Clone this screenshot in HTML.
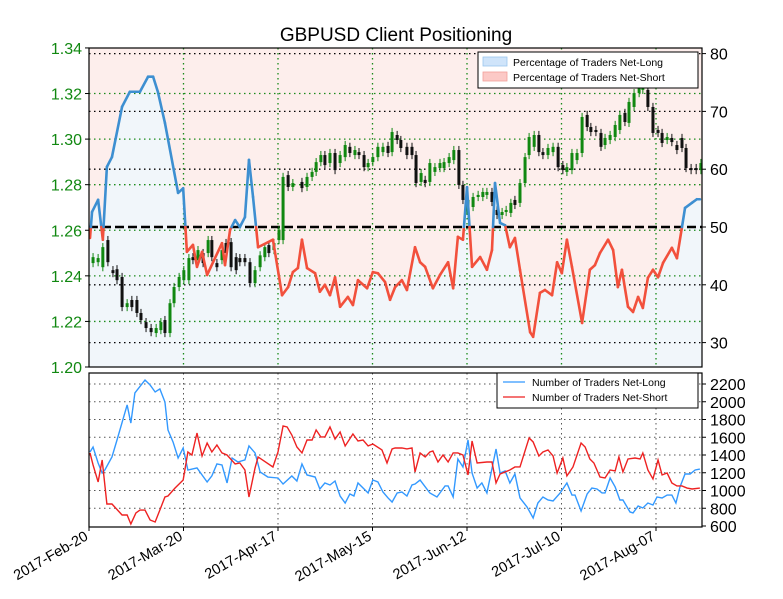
<!DOCTYPE html>
<html><head><meta charset="utf-8"><style>
body{margin:0;background:#fff;}
svg{display:block;font-family:"Liberation Sans","DejaVu Sans",sans-serif;}
</style></head><body>
<svg id="chart" width="783" height="599" viewBox="0 0 783 599" xmlns="http://www.w3.org/2000/svg">
<text x="396" y="41" font-size="19" text-anchor="middle" fill="#000">GBPUSD Client Positioning</text>
<g id="topPanel"></g>
<g id="botPanel"></g>
<g>
<rect x="478" y="52" width="220" height="36" fill="#fff" stroke="#000" stroke-width="1"/>
<rect x="483" y="57" width="24" height="9" fill="#cfe4fa" stroke="#9cc6ee" stroke-width="0.8"/>
<text x="513" y="66" font-size="10.5">Percentage of Traders Net-Long</text>
<rect x="483" y="72" width="24" height="9" fill="#fcc9c6" stroke="#f3a09a" stroke-width="0.8"/>
<text x="513" y="81" font-size="10.5">Percentage of Traders Net-Short</text>
</g>
<g>
<rect x="497" y="373" width="201" height="35" fill="#fff" stroke="#000" stroke-width="1"/>
<line x1="503" y1="382" x2="525" y2="382" stroke="#3399ff" stroke-width="1.3"/>
<text x="532" y="386" font-size="10.5">Number of Traders Net-Long</text>
<line x1="503" y1="397" x2="525" y2="397" stroke="#ee2222" stroke-width="1.3"/>
<text x="532" y="401" font-size="10.5">Number of Traders Net-Short</text>
</g>
</svg>
<script>
const dateLabels=["2017-Feb-20","2017-Mar-20","2017-Apr-17","2017-May-15","2017-Jun-12","2017-Jul-10","2017-Aug-07"];
const dateTickDays=[0,28,56,84,112,140,168];
const priceTicks=[1.20,1.22,1.24,1.26,1.28,1.30,1.32,1.34];
const pctTicks=[30,40,50,60,70,80];
const countTicks=[600,800,1000,1200,1400,1600,1800,2000,2200];

const pctDays=[0.3,0.9,2.7,4.1,5.3,6.8,9.8,12.1,15.1,17.5,19,20.4,22.5,26.4,27.9,29,30.8,32,33.5,35,39.4,40.3,41.8,43.3,44.7,46.2,47.4,48.6,50.1,54.5,57.2,59,60.4,61.9,63.1,64.6,67,68.4,69.9,71.4,72.9,74.4,76.7,78.2,79.7,82.4,84.1,85.6,87.7,89.2,90.7,92.7,94.2,96.6,98.1,99.6,101.9,104,106.4,107.9,109.3,110.8,112,113.5,115.9,117.9,119.4,120.3,121.8,123.3,124.7,126.2,127.7,130.7,131.6,133.6,135.1,137.2,138.7,140.1,141.6,143.1,146.1,148.4,149.9,151.4,153.8,155.3,156.7,157.9,159.7,161.2,162.7,164.1,165.6,167.1,168.6,170.1,172.7,174.2,175.7,176.6,178.7,180.1,181];
const pctLong=[48.1,52.6,54.7,47.8,60.4,62.1,70.8,73.4,73.4,76,76,73.4,68,55.9,56.7,45.7,46.9,43.1,45.7,41.7,47.2,43.4,49.5,51.2,50,51.7,61.6,55.2,46.5,47.8,38.2,39.6,42.2,42.9,47.8,42.9,42,38.8,40,38.2,41.3,36.2,37.9,36.5,40.8,39.4,42.2,42,40.5,37.4,39.6,40.8,39.1,46.5,43.9,43.1,39.4,41.7,43.9,39.4,48.3,47.8,56.9,43.1,44.8,42.6,46,57.6,50.7,50.3,46.5,48.1,42.6,31.8,31,38.6,39.1,38.2,43.9,42,47.8,43.1,33.4,42.6,43.4,45.5,47.8,46,39.6,42.6,36.2,35.3,37.9,36,41.2,42.6,41.3,43.8,46.4,44.6,50,53.3,54.2,54.8,54.8];

const candleDays=[1.2,2.7,4.1,5.6,7.1,8.3,9.8,11.3,12.7,14.2,15.4,16.9,18.4,19.9,21.3,22.5,24,25.2,26.7,28.1,29.6,30.8,32.3,33.8,35.3,36.4,37.9,39.4,40.6,42.1,43.6,44.7,46.2,47.7,49.2,50.7,52.1,53.3,54.8,56.3,57.5,59,60.4,63.1,64.6,66.1,67.3,68.7,69.9,71.4,72.9,74.4,75.9,77.3,78.8,80,81.5,82.7,84.1,85.6,87.1,88.6,89.8,91.3,92.4,94.2,95.7,96.9,98.4,99.6,101,102.5,104,105.2,106.7,108.1,109.6,110.8,112.3,113.8,115.3,116.7,117.9,119.4,120.9,122.4,123.6,125,126.2,127.7,129.2,130.4,131.9,133.3,134.5,136,137.5,139,140.4,141.6,143.1,144.6,146.1,147.6,148.7,150.2,151.7,152.9,154.4,155.9,157.3,158.8,160,161.5,163,164.1,165.6,167.1,168.6,169.8,171.3,172.7,174.2,175.7,176.9,178.4,179.9,181.3];
const candleOpen=[1.2456,1.246,1.2438,1.2557,1.2425,1.2429,1.2395,1.2263,1.2294,1.2294,1.2237,1.2197,1.2171,1.2149,1.2162,1.2206,1.2149,1.228,1.2351,1.2381,1.2381,1.2482,1.2469,1.25,1.25,1.2557,1.2456,1.2469,1.2544,1.2548,1.2482,1.2478,1.2478,1.246,1.2368,1.2438,1.2482,1.2535,1.2513,1.2557,1.2557,1.2842,1.279,1.2812,1.279,1.2834,1.2856,1.2899,1.293,1.2895,1.2939,1.2895,1.2921,1.2966,1.293,1.2943,1.293,1.2877,1.2899,1.2921,1.2943,1.297,1.2943,1.3018,1.2996,1.2966,1.2966,1.293,1.2812,1.2821,1.2812,1.2856,1.2873,1.2873,1.2895,1.2908,1.2952,1.2799,1.2667,1.2702,1.2746,1.2746,1.2755,1.2768,1.2689,1.2667,1.268,1.2676,1.2733,1.272,1.2807,1.293,1.2966,1.3018,1.2943,1.293,1.2943,1.2966,1.2886,1.2856,1.2864,1.2908,1.2939,1.3106,1.3053,1.304,1.3027,1.2974,1.2996,1.3009,1.304,1.3115,1.3071,1.3141,1.3202,1.3216,1.3216,1.3141,1.304,1.3027,1.2996,1.3005,1.2974,1.3005,1.2961,1.2873,1.2873,1.2864];
const candleClose=[1.2482,1.2478,1.2526,1.246,1.2412,1.2381,1.2263,1.228,1.2263,1.2237,1.2206,1.2171,1.2153,1.2171,1.2197,1.2149,1.228,1.2351,1.2395,1.2425,1.2478,1.2469,1.2513,1.2456,1.2557,1.2482,1.2438,1.2513,1.25,1.2438,1.2425,1.246,1.246,1.2368,1.2425,1.249,1.2526,1.25,1.2544,1.2601,1.2834,1.279,1.2807,1.2785,1.2834,1.2856,1.2899,1.293,1.2886,1.2939,1.2864,1.293,1.2974,1.2939,1.2952,1.293,1.2877,1.2895,1.2921,1.2966,1.2966,1.2939,1.3031,1.2996,1.2961,1.293,1.293,1.2807,1.2851,1.2807,1.2895,1.2877,1.2895,1.2899,1.2921,1.2952,1.2799,1.2733,1.2733,1.2746,1.2755,1.2768,1.2768,1.2724,1.2667,1.268,1.2689,1.272,1.2711,1.2807,1.2921,1.3009,1.3018,1.2943,1.293,1.2961,1.2966,1.2877,1.2864,1.2877,1.2939,1.2939,1.3097,1.3053,1.3031,1.3031,1.2966,1.3005,1.3018,1.3062,1.3106,1.3075,1.3163,1.3202,1.3224,1.3229,1.3141,1.3027,1.3027,1.2983,1.3009,1.2987,1.2952,1.2961,1.2873,1.2864,1.2864,1.2895];

const longDays=[0.3,1.2,2.7,3.9,4.7,6.8,8.3,11.3,12.4,13.6,16.6,18.1,19.6,21,22.5,23.4,24.9,26.4,27.9,29.3,32,35,36.4,37.9,39.4,40.9,42.4,44.1,46.2,47.4,49.2,50.7,53,56,57.5,60.1,61.6,63.1,64.6,67,68.4,69.9,71.4,72.9,74.4,75.9,77.3,78.5,79.7,82.7,84.1,85.6,87.1,88.6,89.8,91.3,92.7,94.2,95.7,96.6,98.1,101,103.1,105.5,106.4,107.9,109.3,110.8,112.3,113.5,115,116.4,117.9,120.6,121.8,123.3,124.7,126.2,127.7,129.8,131.6,133,134.5,136,137.5,139.6,141.6,143.1,144,145.8,147.6,149,150.5,152,152.9,154.4,155.9,157.3,158.2,160.3,161.2,162.7,164.1,165.6,167.1,168.3,169.8,171.3,172.7,173.9,175.1,176.6,178.1,179.6,181];
const longCount=[1434,1490,1310,1197,1231,1378,1569,1964,1760,2099,2245,2189,2110,2144,1997,1682,1547,1366,1479,1231,1254,1096,1164,1299,1288,1085,1366,1321,1344,1502,1423,1209,1152,1141,1073,1164,1107,1299,1175,1152,1017,1085,1062,1107,938,859,961,938,1085,972,1118,1096,983,916,870,972,983,938,1062,1073,1118,972,927,1051,1051,927,1355,1265,1569,1197,1028,1085,972,1468,1197,1220,1085,1186,916,814,690,859,927,893,882,972,1085,949,949,769,961,1028,1017,972,972,1141,1040,893,893,758,747,825,803,859,837,927,916,949,949,859,1040,1186,1186,1231,1242];
const shortDays=[0.3,1.2,2.7,3.9,5.3,6.8,9.8,11.3,12.4,13.9,15.1,16.6,18.1,19.6,21,22.5,23.4,25.5,27.9,29.3,30.5,32,33.5,35,36.4,37.9,39.4,40.9,43.3,44.7,46.2,47.4,49.2,50.1,54.5,56,57.5,58.7,60.1,61.6,63.1,64.6,66.1,67.3,68.7,69.9,71.4,72.9,74.4,75.9,78.2,79.7,81.2,82.7,84.1,86.8,88.3,89.8,90.7,92.7,94.2,95.7,96.6,98.1,99.6,101,101.9,103.4,104.9,106.4,107.9,109.3,110.8,112.3,113.5,115,117.9,119.4,120.6,121.8,123.3,124.7,126.2,127.7,130.4,131.6,133.3,134.5,136,137.5,138.7,140.4,141.6,143.4,145.8,147,148.4,149.6,151.4,152.9,154.4,155.9,157,158.2,159.7,161.8,163.3,164.1,165.6,167.1,168.6,169.8,171.3,172.7,174.2,175.7,177.2,178.7,181];
const shortCount=[1423,1288,1096,1344,848,848,724,724,623,747,780,780,668,645,780,927,938,1028,1118,1434,1400,1648,1389,1535,1434,1513,1423,1400,1299,1310,1231,927,1254,1378,1265,1434,1727,1716,1625,1490,1423,1569,1569,1682,1603,1603,1716,1580,1659,1502,1637,1558,1569,1502,1524,1457,1310,1468,1479,1479,1468,1479,1209,1423,1378,1434,1445,1321,1400,1321,1423,1423,1400,1175,1558,1310,1321,1321,1085,1186,1209,1231,1265,1265,1592,1547,1389,1434,1457,1389,1197,1366,1164,1265,1535,1490,1355,1310,1152,1141,1231,1220,1378,1209,1355,1366,1355,1423,1231,1130,1344,1175,1197,1085,1051,1051,1028,1017,1028];

const NS="http://www.w3.org/2000/svg";
const L=89,R=702,T1=48,B1=367,T2=373,B2=527;
const xOf=d=>L+d*3.375;
const yP=p=>B1-(p-1.20)*2279;
const yS=v=>227-(v-50)*5.78;
const yN=n=>526-(n-600)*0.08875;
function mk(tag,attrs,parent){const e=document.createElementNS(NS,tag);for(const k in attrs)e.setAttribute(k,attrs[k]);parent.appendChild(e);return e;}
const topG=document.getElementById('topPanel'),botG=document.getElementById('botPanel');

const pts=pctDays.map((d,i)=>[xOf(d),yS(pctLong[i])]);
const lineStr=pts.map(p=>p.join(',')).join(' ');
const pinkArea=mk('polygon',{points:`${L},${T1} ${L},${pts[0][1]} ${lineStr} ${R},${pts[pts.length-1][1]} ${R},${T1}`,fill:'#fdeeec'},topG);


const blueArea=mk('polygon',{points:`${L},${B1} ${L},${pts[0][1]} ${lineStr} ${R},${pts[pts.length-1][1]} ${R},${B1}`,fill:'#f1f6fa'},topG);



priceTicks.forEach(p=>{const y=yP(p);
 if(p>1.20&&p<1.34){const g=mk('line',{x1:L,x2:R,y1:y,y2:y,stroke:'#1a8a1a','stroke-width':1.3,'stroke-dasharray':'1.5,3.5'},topG);
 }
 const t=mk('text',{x:82,y:y+6,'font-size':16,'text-anchor':'end',fill:'#118811'},topG);t.textContent=p.toFixed(2);
 
 mk('line',{x1:L-4,x2:L,y1:y,y2:y,stroke:'#000'},topG);
});
pctTicks.forEach(v=>{const y=yS(v);
 if(v!==50){const g=mk('line',{x1:L,x2:R,y1:y,y2:y,stroke:'#000','stroke-width':1.3,'stroke-dasharray':'1.5,3.5'},topG);
 }
 const t=mk('text',{x:710,y:y+6,'font-size':16,fill:'#000'},topG);t.textContent=v;
 
 mk('line',{x1:R,x2:R+4,y1:y,y2:y,stroke:'#000'},topG);
});
dateTickDays.forEach(d=>{const x=xOf(d);
 if(d>0){const g=mk('line',{x1:x,x2:x,y1:T1,y2:B1,stroke:'#1a8a1a','stroke-width':1.3,'stroke-dasharray':'1.5,3.5'},topG);
 }
});
const mid=mk('line',{x1:L,x2:R,y1:yS(50),y2:yS(50),stroke:'#000','stroke-width':2.6,'stroke-dasharray':'9,4'},topG);



candleDays.forEach((d,i)=>{const o=candleOpen[i],c=candleClose[i];const x=xOf(d);
 const up=c>=o;const col=up?'#118811':'#111';
 const hi=Math.max(o,c)+0.0018,lo=Math.min(o,c)-0.0018;
 mk('line',{x1:x,x2:x,y1:yP(hi),y2:yP(lo),stroke:col,'stroke-width':1},topG);
 const yt=yP(Math.max(o,c)),yb=yP(Math.min(o,c));
 const r=mk('rect',{x:x-1.5,y:yt,width:3,height:Math.max(1.2,yb-yt),fill:col},topG);
 
 
});

const y50=yS(50);
for(let i=0;i<pts.length-1;i++){const [x1,y1]=pts[i],[x2,y2]=pts[i+1];
 const segs=[];
 if((y1-y50)*(y2-y50)<0){const t=(y50-y1)/(y2-y1);const xm=x1+t*(x2-x1);segs.push([x1,y1,xm,y50]);segs.push([xm,y50,x2,y2]);}
 else segs.push([x1,y1,x2,y2]);
 segs.forEach(s=>{const above=(s[1]+s[3])/2<y50-0.01;
  const ln=mk('line',{x1:s[0],y1:s[1],x2:s[2],y2:s[3],stroke:above?'#3d8fd1':'#f2503c','stroke-width':2.6,'stroke-linecap':'round'},topG);
  
  
 });
}
mk('rect',{x:L,y:T1,width:R-L,height:B1-T1,fill:'none',stroke:'#000','stroke-width':1.2},topG);

countTicks.forEach(n=>{const y=yN(n);
 if(n>600){const g=mk('line',{x1:L,x2:R,y1:y,y2:y,stroke:'#555','stroke-width':1,'stroke-dasharray':'1.5,3.5'},botG);
 }
 const t=mk('text',{x:710,y:y+6,'font-size':16,fill:'#000'},botG);t.textContent=n;
 
 mk('line',{x1:R,x2:R+4,y1:y,y2:y,stroke:'#000'},botG);
});
dateTickDays.forEach((d,i)=>{const x=xOf(d);
 if(d>0){const g=mk('line',{x1:x,x2:x,y1:T2,y2:B2,stroke:'#555','stroke-width':1,'stroke-dasharray':'1.5,3.5'},botG);
 }
 mk('line',{x1:x,x2:x,y1:B2,y2:B2+4,stroke:'#000'},botG);
 const t=mk('text',{x:x,y:B2+12,'font-size':14.5,'text-anchor':'end',transform:`rotate(-30 ${x} ${B2+12})`},botG);
 t.textContent=dateLabels[i];
 
});
const lp=mk('polyline',{points:longDays.map((d,i)=>xOf(d)+','+yN(longCount[i])).join(' '),fill:'none',stroke:'#3399ff','stroke-width':1.4},botG);


const sp=mk('polyline',{points:shortDays.map((d,i)=>xOf(d)+','+yN(shortCount[i])).join(' '),fill:'none',stroke:'#ee2222','stroke-width':1.4},botG);


mk('rect',{x:L,y:T2,width:R-L,height:B2-T2,fill:'none',stroke:'#000','stroke-width':1.2},botG);
</script>
</body></html>
